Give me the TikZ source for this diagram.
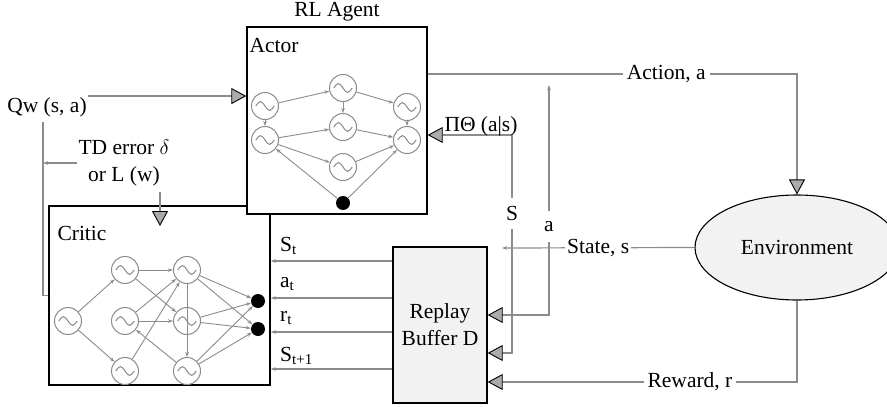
\documentclass[tikz,border=0pt]{standalone}
\usepackage{fontspec}
\setmainfont{Liberation Serif}
\usetikzlibrary{arrows.meta,shapes.geometric,calc}
\definecolor{rlgrey}{HTML}{8C8C8C}
\definecolor{rlfill}{HTML}{F2F2F2}
\definecolor{rltip}{HTML}{ABABAB}
\tikzset{
  tritip/.tip     = {Triangle[length=15pt,width=16pt,fill=rltip,color=black,
                     line width=0.9pt]},
  smtip/.tip      = {Stealth[length=5pt,width=3.5pt]},
  panel/.style    = {draw=black, line width=1.4pt, fill=white, inner sep=0pt},
  bufbox/.style   = {panel, fill=rlfill, align=center},
  envnode/.style  = {ellipse, draw=black, line width=1.1pt, fill=rlfill,
                     inner sep=0pt},
  neuron/.style   = {circle, draw=rlgrey, line width=1pt, fill=white,
                     minimum size=27pt, inner sep=0pt,
                     path picture={\draw[rlgrey, line width=1pt]
                       ([xshift=-9.2pt]path picture bounding box.center)
                       sin ++(4.6pt,4.4pt) cos ++(4.6pt,-4.4pt)
                       sin ++(4.6pt,-4.4pt) cos ++(4.6pt,4.4pt);}},
  outdot/.style   = {circle, fill=black, minimum size=14pt, inner sep=0pt},
  syn/.style      = {-smtip, draw=rlgrey, line width=0.9pt},
  flow/.style     = {draw=rlgrey, line width=1.2pt},
  feed/.style     = {flow, -smtip},
  lbl/.style      = {fill=white, inner xsep=4pt, inner ysep=2pt},
  ttl/.style      = {inner sep=1pt},
}

\begin{document}
\begin{tikzpicture}[x=1pt, y=-1pt, font=\fontsize{21.5}{27}\selectfont]
  \useasboundingbox (0,0) rectangle (887,407);

  % ---------- critic (drawn first, the actor sits over its corner) --------
  \node[panel, minimum width=221pt, minimum height=179pt] (critic) at (159.5,295.5) {};
  \node[ttl] (crlbl) at (82,233) {Critic};
  \node[neuron] (c1) at (68,321) {};
  \node[neuron] (c2) at (125,270) {};
  \node[neuron] (c3) at (125,321) {};
  \node[neuron] (c4) at (125,371) {};
  \node[neuron] (c5) at (187,270) {};
  \node[neuron] (c6) at (187,321) {};
  \node[neuron] (c7) at (187,371) {};
  \node[outdot] (d1) at (258,301) {};
  \node[outdot] (d2) at (258,329) {};
  \draw[syn] (c1) -- (c2);
  \draw[syn] (c1) -- (c4);
  \draw[syn] (c2) -- (c5);
  \draw[syn] (c2) -- (c6);
  \draw[syn] (c3) -- (c5);
  \draw[syn] (c3) -- (c6);
  \draw[syn] (c4) -- (c5);
  \draw[syn] (c7) -- (c3);
  \draw[syn] (c5) -- (c7);
  \draw[syn] (c5) -- (d1);
  \draw[syn] (c5) -- (d2);
  \draw[syn] (c6) -- (d1);
  \draw[syn] (c6) -- (d2);
  \draw[syn] (c7) -- (d1);
  \draw[syn] (c7) -- (d2);

  % ---------- actor ------------------------------------------------------
  \node[ttl] (agent) at (337,12) {RL Agent};
  \node[panel, minimum width=180pt, minimum height=187pt] (actor) at (337,120.5) {};
  \node[ttl] (aclbl) at (274,46) {Actor};
  \node[neuron] (n1) at (265,106) {};
  \node[neuron] (n2) at (265,140) {};
  \node[neuron] (n3) at (343,88) {};
  \node[neuron] (n4) at (343,127) {};
  \node[neuron] (n5) at (343,167) {};
  \node[neuron] (n6) at (407,107) {};
  \node[neuron] (n7) at (407,140) {};
  \node[outdot] (ad) at (343,203) {};
  \draw[syn] (n1) -- (n2);
  \draw[syn] (n1) -- (n3);
  \draw[syn] (n3) -- (n4);
  \draw[syn] (n3) -- (n6);
  \draw[syn] (n6) -- (n7);
  \draw[syn] (n2) -- (n4);
  \draw[syn] (n2) -- (n5);
  \draw[syn] (n4) -- (n7);
  \draw[syn] (n5) -- (n7);
  \draw[syn] (ad) -- (n2);
  \draw[syn] (ad) -- (n7);

  % ---------- replay buffer and environment ------------------------------
  \node[bufbox, minimum width=94pt, minimum height=156pt] (buf) at (440,325)
      {Replay\\Buffer D};
  \node[envnode, minimum width=204pt, minimum height=105pt] (env) at (797,247.5)
      {Environment};

  \coordinate (act)   at (0,74);
  \coordinate (atop)  at (549,85);
  \coordinate (sknee) at (512,135);
  \coordinate (stend) at (502,248);
  \coordinate (abuf)  at ([yshift=10pt]buf.east);
  \coordinate (sbuf)  at ([yshift=-28pt]buf.east);
  \coordinate (rbuf)  at ([yshift=-57pt]buf.east);

  % ---------- environment loop -------------------------------------------
  \draw[flow, -tritip] (actor.east |- act) -| node[lbl, pos=.323] {Action, a}
      (env.north);
  \draw[flow, -smtip] (env.west) -- node[lbl, inner xsep=2pt, pos=.5] {State, s}
      (stend);
  \draw[flow, -tritip] (env.south) |- node[lbl, pos=.673] {Reward, r} (rbuf);
  \draw[flow, smtip-tritip] (atop) -- node[lbl, minimum height=31pt, pos=.617] {a}
      (atop |- abuf) -- (abuf);
  \draw[flow, tritip-tritip] (actor.east |- sknee) -- (sknee) --
      node[lbl, minimum height=31pt, pos=.36] {S} (sknee |- sbuf) -- (sbuf);
  \node[ttl] (pol) at (481,126) {ΠΘ (a|s)};

  % ---------- buffer samples into the critic -----------------------------
  \coordinate (yst) at (0,261);
  \coordinate (yat) at (0,298);
  \coordinate (yrt) at (0,332);
  \coordinate (ysn) at (0,369);
  \draw[feed] (buf.west |- yst) -- (critic.east |- yst);
  \draw[feed] (buf.west |- yat) -- (critic.east |- yat);
  \draw[feed] (buf.west |- yrt) -- (critic.east |- yrt);
  \draw[feed] (buf.west |- ysn) -- (critic.east |- ysn);
  \node[ttl, anchor=west] (lst) at (279,246) {S\textsubscript{t}};
  \node[ttl, anchor=west] (lat) at (279,284) {a\textsubscript{t}};
  \node[ttl, anchor=west] (lrt) at (279,318) {r\textsubscript{t}};
  \node[ttl, anchor=west] (lsn) at (279,356) {S\textsubscript{t+1}};

  % ---------- critic feedback to the actor -------------------------------
  \node[ttl] (qw) at (47,107) {Qw (s, a)};
  \node[ttl, align=center] (td) at (124,163) {TD error $\delta$\\ or L (w)};
  \coordinate (qleg)  at (43,122);
  \coordinate (tdin)  at (160,226);
  \draw[flow, -tritip] (qw.north east) -- (actor.west |- qw.north east);
  \draw[flow] (critic.west) -| (qleg);
  \draw[flow, -smtip] (td.west) -- (td.west -| qleg);
  \draw[flow, -tritip, shorten <=5pt] (tdin |- td.south) -- (tdin);

\end{tikzpicture}
\end{document}
